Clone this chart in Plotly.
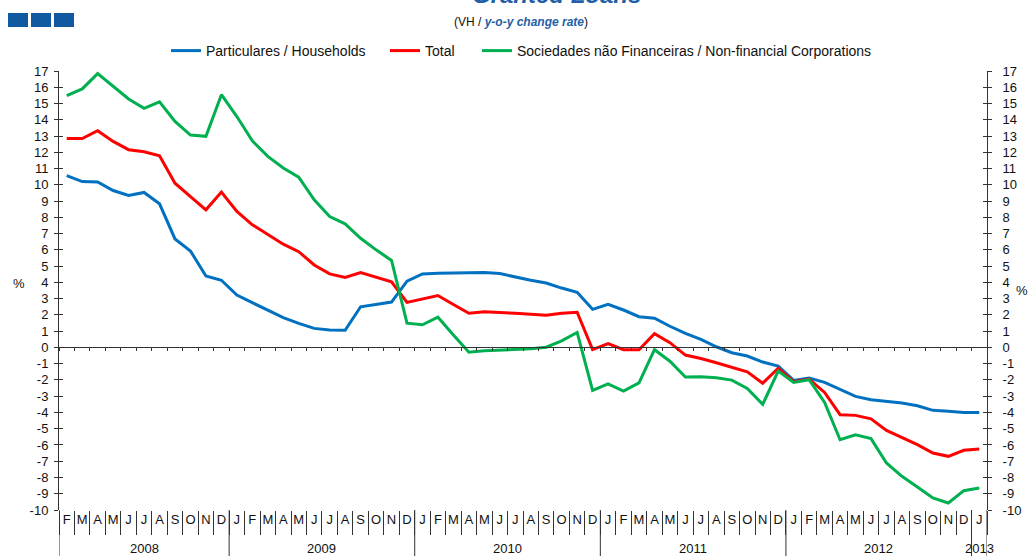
import plotly.graph_objects as go

# ---------------- data (Feb 2008 .. Jan 2013) ----------------
months = (["F", "M", "A", "M", "J", "J", "A", "S", "O", "N", "D"]
          + ["J", "F", "M", "A", "M", "J", "J", "A", "S", "O", "N", "D"] * 4
          + ["J"])
years = ["2008", "2009", "2010", "2011", "2012", "2013"]

households = [10.57, 10.2, 10.18, 9.65, 9.34, 9.53, 8.83, 6.67, 5.93, 4.39, 4.13,
              3.22, 2.75, 2.3, 1.83, 1.48, 1.17, 1.07, 1.05, 2.5, 2.65, 2.79,
              4.07, 4.52, 4.56, 4.58, 4.58, 4.6, 4.54, 4.33, 4.13, 3.96, 3.65, 3.39,
              2.34, 2.65, 2.3, 1.89, 1.8, 1.3, 0.86, 0.49, 0.04, -0.33, -0.53, -0.9, -1.15,
              -2.03, -1.89, -2.15, -2.6, -3.01, -3.22, -3.34, -3.42, -3.59, -3.87, -3.93, -4.0,
              -4.0]
total = [12.85, 12.85, 13.33, 12.67, 12.16, 12.03, 11.79, 10.1, 9.28, 8.46, 9.55,
         8.36, 7.54, 6.92, 6.35, 5.89, 5.07, 4.52, 4.3, 4.6, 4.31, 4.03,
         2.77, 2.96, 3.19, 2.64, 2.1, 2.19, 2.16, 2.1, 2.04, 1.98, 2.1, 2.16,
         -0.14, 0.24, -0.14, -0.14, 0.84, 0.29, -0.47, -0.68, -0.94, -1.23, -1.5, -2.2, -1.28,
         -2.11, -1.95, -2.77, -4.14, -4.18, -4.39, -5.1, -5.53, -5.98, -6.5, -6.7, -6.33,
         -6.25]
corporations = [15.48, 15.9, 16.84, 16.06, 15.28, 14.7, 15.1, 13.9, 13.06, 12.98, 15.54,
                14.2, 12.7, 11.75, 11.03, 10.47, 9.08, 8.05, 7.6, 6.71, 6.0, 5.35,
                1.49, 1.39, 1.86, 0.77, -0.3, -0.21, -0.18, -0.12, -0.08, 0.01, 0.4, 0.92,
                -2.65, -2.24, -2.69, -2.18, -0.14, -0.85, -1.82, -1.81, -1.87, -2.01, -2.53, -3.5, -1.46,
                -2.15, -1.99, -3.38, -5.68, -5.37, -5.61, -7.11, -7.93, -8.59, -9.26, -9.57, -8.81,
                -8.65]

series_names = ["Particulares / Households", "Total",
                "Sociedades não Financeiras / Non-financial Corporations"]
series_colors = ["#0070c0", "#ff0000", "#00b050"]

# ---------------- geometry helpers ----------------
W, H = 1029, 556
L, R, T, B = 59, 42, 71, 46
PW, PH = W - L - R, H - T - B
YMIN, YMAX = -10, 17
FONT = "Liberation Sans, Arial, sans-serif"
AX = "#333333"


def px(xp):
    """pixel x -> paper x"""
    return (xp - L) / PW


def py(yp):
    """pixel y -> paper y"""
    return (H - B - yp) / PH


n = len(months)
xs = list(range(n))
xr = [-0.5, n - 0.5]

fig = go.Figure()
legend_ids = ["legend", "legend2", "legend3"]
for ys, name, col, lg in zip([households, total, corporations], series_names,
                             series_colors, legend_ids):
    fig.add_trace(go.Scatter(x=xs, y=ys, mode="lines", name=name, legend=lg,
                             line=dict(color=col, width=3)))

# dummy traces to realise helper axes
for xa, ya in [("x2", "y2"), ("x", "y3"), ("x", "y4")]:
    fig.add_trace(go.Scatter(x=[None], y=[None], xaxis=xa, yaxis=ya,
                             showlegend=False, hoverinfo="skip"))

yticks = list(range(YMIN, YMAX + 1))
ytext = [str(v) for v in yticks]
tickfont = dict(family=FONT, size=13, color="#111111")

# year boundaries: edges and every January (a "J" that follows "D")
year_starts = [0] + [i for i in range(1, n) if months[i - 1] == "D"]
year_ends = year_starts[1:] + [n]
boundaries = [s - 0.5 for s in year_starts] + [n - 0.5]
year_centers = [(s + e - 1) / 2 for s, e in zip(year_starts, year_ends)]

shapes = []
for b in boundaries:
    shapes.append(dict(type="line", xref="x", yref="paper", x0=b, x1=b,
                       y0=0, y1=py(H), line=dict(color=AX, width=1)))
for x0 in (8, 31, 54):
    shapes.append(dict(type="rect", xref="paper", yref="paper",
                       x0=px(x0), x1=px(x0 + 20), y0=py(27), y1=py(13),
                       fillcolor="#1059a0", line=dict(width=0)))

annotations = []
for yr, c in zip(years, year_centers):
    annotations.append(dict(text=yr, x=c, xref="x", y=py(548), yref="paper",
                            showarrow=False, xanchor="center", yanchor="middle",
                            font=dict(family=FONT, size=13, color="#111111")))
annotations.append(dict(text="%", x=px(19), y=py(283), xref="paper", yref="paper",
                        showarrow=False, xanchor="center", yanchor="middle",
                        font=dict(family=FONT, size=13, color="#111111")))
annotations.append(dict(text="%", x=px(1022), y=py(290), xref="paper", yref="paper",
                        showarrow=False, xanchor="center", yanchor="middle",
                        font=dict(family=FONT, size=13, color="#111111")))
annotations.append(dict(text="(VH / <b><i><span style='color:#1f5fa8'>y-o-y change rate</span></i></b>)",
                        x=px(521), y=py(22), xref="paper", yref="paper",
                        showarrow=False, xanchor="center", yanchor="middle",
                        font=dict(family=FONT, size=12, color="#111111")))
annotations.append(dict(text="<b><i>Granted Loans</i></b>",
                        x=px(556), y=py(10), xref="paper", yref="paper",
                        showarrow=False, xanchor="center", yanchor="bottom",
                        font=dict(family=FONT, size=24, color="#1f5fa8")))

legend_common = dict(orientation="h", xref="container", yref="container",
                     yanchor="middle", xanchor="left", y=1 - 51 / H,
                     font=dict(family=FONT, size=14, color="#111111"),
                     bgcolor="rgba(0,0,0,0)", borderwidth=0)

axis_common = dict(automargin=False, showgrid=False, zeroline=False)

fig.update_layout(
    template="none",
    width=W, height=H,
    margin=dict(l=L, r=R, t=T, b=B, pad=0, autoexpand=False),
    paper_bgcolor="white", plot_bgcolor="white",
    showlegend=True,
    legend=dict(legend_common, x=166 / W),
    legend2=dict(legend_common, x=385 / W),
    legend3=dict(legend_common, x=477 / W),
    xaxis=dict(axis_common, range=xr, tickmode="array", tickvals=xs, ticktext=months,
               ticks="", showline=False, tickfont=tickfont,
               minor=dict(ticks="outside", tick0=-0.5, dtick=1, ticklen=24,
                          tickcolor=AX, tickwidth=1, showgrid=False)),
    xaxis2=dict(axis_common, range=xr, overlaying="x", anchor="free",
                position=(0 - YMIN) / (YMAX - YMIN),
                showline=True, linecolor=AX, linewidth=1,
                tickmode="array", tickvals=[i - 0.5 for i in range(n + 1)],
                ticks="outside", ticklen=3, tickcolor=AX, tickwidth=1,
                showticklabels=False),
    yaxis=dict(axis_common, range=[YMIN, YMAX], tickmode="array", tickvals=yticks,
               ticktext=ytext, ticks="outside", ticklen=4, tickcolor=AX, tickwidth=1,
               showline=True, linecolor=AX, linewidth=1,
               tickfont=tickfont, ticklabelstandoff=3),
    yaxis2=dict(axis_common, range=[YMIN, YMAX], overlaying="y", side="right", anchor="x",
                tickmode="array", tickvals=yticks, ticktext=ytext, ticks="outside",
                ticklen=4, tickcolor=AX, tickwidth=1, showline=True, linecolor=AX,
                linewidth=1, tickfont=tickfont, ticklabelstandoff=8),
    yaxis3=dict(axis_common, range=[YMIN, YMAX], overlaying="y", side="left", anchor="x",
                tickmode="array", tickvals=yticks, ticks="inside", ticklen=4,
                tickcolor=AX, tickwidth=1, showticklabels=False, showline=False),
    yaxis4=dict(axis_common, range=[YMIN, YMAX], overlaying="y", side="right", anchor="x",
                tickmode="array", tickvals=yticks, ticks="inside", ticklen=4,
                tickcolor=AX, tickwidth=1, showticklabels=False, showline=False),
    shapes=shapes,
    annotations=annotations,
)

# remove the page's default body margin so the figure sits at the window origin
fig.write_html("out.html",
               config={"displayModeBar": False},
               post_script="document.body.style.margin='0';document.body.style.overflow='hidden';")
